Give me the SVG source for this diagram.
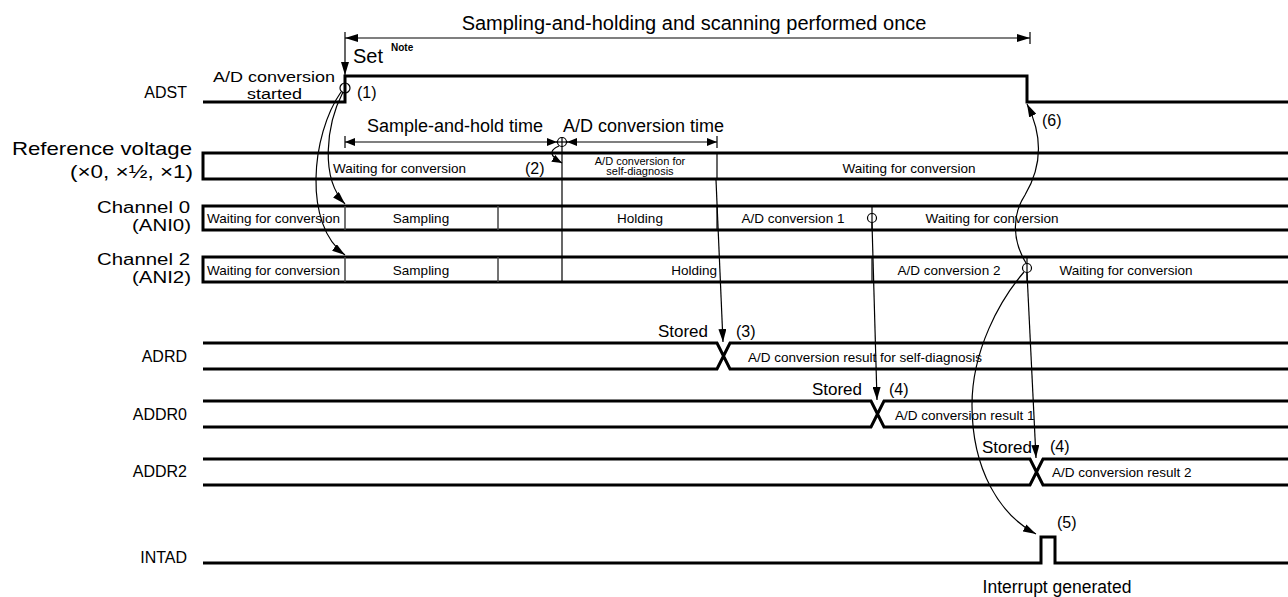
<svg xmlns="http://www.w3.org/2000/svg" width="1288" height="597" viewBox="0 0 1288 597">
<defs>
<marker id="ah" markerUnits="userSpaceOnUse" viewBox="0 0 13 8" markerWidth="13" markerHeight="8" refX="13" refY="4" orient="auto-start-reverse"><path d="M0,0 L13,4 L0,8 z" fill="#000"/></marker>
<marker id="as" markerUnits="userSpaceOnUse" viewBox="0 0 10 8" markerWidth="10" markerHeight="8" refX="10" refY="4" orient="auto-start-reverse"><path d="M0,0 L10,4 L0,8 z" fill="#000"/></marker>
</defs>
<style>
text{font-family:"Liberation Sans",Arial,Helvetica,sans-serif;fill:#000}
.sig{fill:none;stroke:#000;stroke-width:3}
.dv{stroke:#444;stroke-width:1.5}
.thin{fill:none;stroke:#000;stroke-width:1.2}
.lbl{font-size:16px;text-anchor:end}
.in{font-size:13.5px}
.m{text-anchor:middle}
.e{text-anchor:end}
.num{font-size:16px}
.big{font-size:18px}
.circ{fill:none;stroke:#000;stroke-width:1.2}
</style>
<rect width="1288" height="597" fill="#fff"/>

<g id="scan-span">
<line class="thin" x1="345" y1="32" x2="345" y2="44"/>
<line class="thin" x1="1030" y1="32" x2="1030" y2="44"/>
<line class="thin" x1="345" y1="38" x2="1030" y2="38" marker-start="url(#ah)" marker-end="url(#ah)"/>
<text x="694" y="30" font-size="20" class="m">Sampling-and-holding and scanning performed once</text>
</g>

<g id="adst">
<text class="lbl" x="187" y="98" font-size="17">ADST</text>
<path class="sig" d="M203,102 H345 V76 H1027 V102 H1288"/>
<text x="213" y="81.5" font-size="15.5" textLength="122" lengthAdjust="spacingAndGlyphs">A/D conversion</text>
<text x="247" y="99" font-size="15.5" textLength="55" lengthAdjust="spacingAndGlyphs">started</text>
<text x="353" y="63" font-size="20">Set</text>
<text x="391" y="51" font-size="10" font-weight="bold">Note</text>
<circle class="circ" cx="345" cy="88" r="5"/>
<text class="num" x="357" y="98">(1)</text>
</g>

<g id="timing-dims">
<line class="thin" x1="345" y1="136" x2="345" y2="148"/>
<line class="thin" x1="717" y1="136" x2="717" y2="148"/>
<line class="thin" x1="345" y1="142" x2="557" y2="142" marker-start="url(#as)" marker-end="url(#as)"/>
<line class="thin" x1="567" y1="142" x2="717" y2="142" marker-start="url(#as)" marker-end="url(#as)"/>
<circle class="circ" cx="562" cy="142" r="4.5"/>
<line class="thin" x1="556" y1="142" x2="568" y2="142"/>
<text class="big" x="367" y="132">Sample-and-hold time</text>
<text class="big" x="563" y="132">A/D conversion time</text>
<text class="num" x="525" y="174">(2)</text>
</g>

<g id="refv">
<text x="12" y="155" font-size="19" textLength="180" lengthAdjust="spacingAndGlyphs">Reference voltage</text>
<text x="70" y="178" font-size="19" textLength="123" lengthAdjust="spacingAndGlyphs">(×0, ×½, ×1)</text>
<path class="sig" d="M1288,153 H203 V179 H1288"/>
<line class="thin" x1="717" y1="153" x2="717" y2="179"/>
<text class="in" x="333" y="173">Waiting for conversion</text>
<text font-size="11" class="m" x="640" y="165">A/D conversion for</text>
<text font-size="11" class="m" x="640" y="175">self-diagnosis</text>
<text class="in m" x="909" y="173">Waiting for conversion</text>
</g>

<g id="ch0">
<text x="97" y="213" font-size="16" textLength="93" lengthAdjust="spacingAndGlyphs">Channel 0</text>
<text x="132" y="231" font-size="16" textLength="59" lengthAdjust="spacingAndGlyphs">(ANI0)</text>
<path class="sig" d="M1288,206 H203 V230 H1288"/>
<line class="dv" x1="345" y1="206" x2="345" y2="230"/>
<line class="dv" x1="498" y1="206" x2="498" y2="230"/>
<line class="thin" x1="717" y1="206" x2="717" y2="230"/>
<line class="thin" x1="872" y1="206" x2="872" y2="230"/>
<circle class="circ" cx="872" cy="218" r="4.5"/>
<text class="in" x="207" y="223">Waiting for conversion</text>
<text class="in m" x="421" y="223">Sampling</text>
<text class="in m" x="640" y="223">Holding</text>
<text class="in m" x="793" y="223">A/D conversion 1</text>
<text class="in m" x="992" y="223">Waiting for conversion</text>
</g>

<g id="ch2">
<text x="97" y="265" font-size="16" textLength="93" lengthAdjust="spacingAndGlyphs">Channel 2</text>
<text x="132" y="283" font-size="16" textLength="59" lengthAdjust="spacingAndGlyphs">(ANI2)</text>
<path class="sig" d="M1288,257 H203 V282 H1288"/>
<line class="dv" x1="345" y1="257" x2="345" y2="282"/>
<line class="dv" x1="498" y1="257" x2="498" y2="282"/>
<line class="thin" x1="872" y1="257" x2="872" y2="282"/>
<line class="thin" x1="1027" y1="257" x2="1027" y2="282"/>
<circle class="circ" cx="1027" cy="268" r="4.5"/>
<text class="in" x="207" y="275">Waiting for conversion</text>
<text class="in m" x="421" y="275">Sampling</text>
<text class="in e" x="717" y="275">Holding</text>
<text class="in m" x="949" y="275">A/D conversion 2</text>
<text class="in m" x="1126" y="275">Waiting for conversion</text>
</g>

<g id="adrd">
<text class="lbl" x="187" y="362">ADRD</text>
<path class="sig" d="M203,343 H717 L730,369 H1288 M203,369 H717 L730,343 H1288"/>
<text x="708" y="337" font-size="17" class="e">Stored</text>
<text class="num" x="736" y="337">(3)</text>
<text class="in" x="748" y="362">A/D conversion result for self-diagnosis</text>
</g>

<g id="addr0">
<text class="lbl" x="187" y="420">ADDR0</text>
<path class="sig" d="M203,401 H871 L884,427 H1288 M203,427 H871 L884,401 H1288"/>
<text x="862" y="395" font-size="17" class="e">Stored</text>
<text class="num" x="889" y="395">(4)</text>
<text class="in" x="895" y="420">A/D conversion result 1</text>
</g>

<g id="addr2">
<text class="lbl" x="187" y="477">ADDR2</text>
<path class="sig" d="M203,459 H1030 L1043,485 H1288 M203,485 H1030 L1043,459 H1288"/>
<text x="1032" y="453" font-size="17" class="e">Stored</text>
<text class="num" x="1050" y="452">(4)</text>
<text class="in" x="1052" y="477">A/D conversion result 2</text>
</g>

<g id="intad">
<text class="lbl" x="187" y="563">INTAD</text>
<path class="sig" d="M203,563 H1041 V537 H1055 V563 H1288"/>
<text class="num" x="1057" y="528">(5)</text>
<text x="1057" y="593" font-size="17.5" class="m">Interrupt generated</text>
</g>

<g id="connectors">
<line class="thin" x1="345" y1="44" x2="345" y2="75" marker-end="url(#ah)"/>
<path class="thin" d="M343,92 C326,125 320,178 345,204" marker-end="url(#ah)"/>
<path class="thin" d="M341,92 C311,135 303,225 345,255" marker-end="url(#ah)"/>
<line class="thin" x1="562" y1="137" x2="562" y2="282"/>
<path class="thin" d="M559,146 C549,150 549,156 562,163" marker-end="url(#as)"/>
<line class="thin" x1="716" y1="180" x2="723" y2="342" marker-end="url(#ah)"/>
<line class="thin" x1="872" y1="223" x2="877" y2="400" marker-end="url(#ah)"/>
<line class="thin" x1="1027" y1="273" x2="1036" y2="458" marker-end="url(#ah)"/>
<path class="thin" d="M1024,272 C1000,300 972,350 972,405 C972,470 1000,515 1036,534" marker-end="url(#ah)"/>
<path class="thin" d="M1026,263 C1012,240 1012,215 1025,195 C1040,170 1045,140 1027,104" marker-end="url(#ah)"/>
<text class="num" x="1042" y="126">(6)</text>
</g>
</svg>
